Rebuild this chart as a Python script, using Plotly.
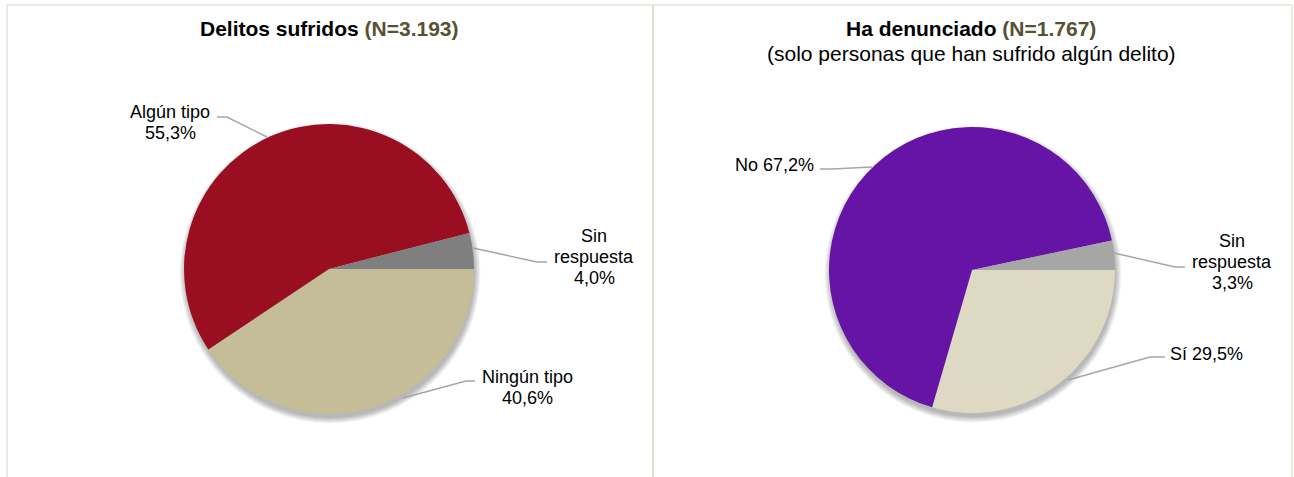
import plotly.graph_objects as go

W, H = 1294, 477

# ---- data ----
left_labels = ["Sin respuesta", "Algún tipo", "Ningún tipo"]
left_values = [4.0, 55.3, 40.6]
right_labels = ["Sin respuesta", "No", "Sí"]
right_values = [3.3, 67.2, 29.5]
left_title = "Delitos sufridos"
left_n = "(N=3.193)"
right_title = "Ha denunciado"
right_n = "(N=1.767)"
right_subtitle = "(solo personas que han sufrido algún delito)"

# ---- style ----
left_colors = ["#7F7F7F", "#9A0E22", "#C4BD97"]
right_colors = ["#A6A6A6", "#6614A6", "#DDD9C3"]
FONT = "Liberation Sans, Arial, sans-serif"
LEAD = "#A6A6A6"
BORDER = "#D8D4C2"


def px(x):
    return x / W


def py(y):
    return 1 - y / H


def pct(v):
    return f"{v:.1f}".replace(".", ",") + "%"


# pie geometry (pixels): center x, center y, radius
LP = (329, 269, 145)
RP = (972, 270, 143)


def dom(p):
    cx, cy, r = p
    return dict(x=[px(cx - r), px(cx + r)], y=[py(cy + r), py(cy - r)])


fig = go.Figure()
for vals, labs, cols, p in [(left_values, left_labels, left_colors, LP),
                            (right_values, right_labels, right_colors, RP)]:
    # drawn clockwise from 3 o'clock in reversed order -> first item sits just above 3 o'clock
    fig.add_trace(go.Pie(
        values=vals[::-1], labels=labs[::-1], sort=False, direction="clockwise",
        rotation=90, textinfo="none", hoverinfo="label+value",
        marker=dict(colors=cols[::-1], line=dict(width=0)),
        domain=dom(p), showlegend=False,
    ))

shapes = []
# panel borders
shapes.append(dict(type="rect", xref="paper", yref="paper", x0=px(7), x1=px(653),
                   y0=py(490), y1=py(5), line=dict(color=BORDER, width=1), layer="below"))
shapes.append(dict(type="rect", xref="paper", yref="paper", x0=px(653), x1=px(1292),
                   y0=py(490), y1=py(5), line=dict(color=BORDER, width=1), layer="below"))
# soft shadows
for (cx, cy, r) in (LP, RP):
    for k in range(7):
        rr = r + k * 0.9
        shapes.append(dict(type="circle", xref="paper", yref="paper",
                           x0=px(cx + 1 - rr), x1=px(cx + 1 + rr),
                           y0=py(cy + 4 + rr), y1=py(cy + 4 - rr),
                           fillcolor="rgba(0,0,0,0.045)", line=dict(width=0), layer="below"))

# leader lines (pixel paths)
leaders = [
    [(267, 137), (227, 117), (217, 117)],
    [(473, 248), (537, 262), (547, 262)],
    [(403, 398), (466, 381), (475, 381)],
    [(872, 167), (832, 169), (820, 169)],
    [(1114, 253), (1175, 267), (1185, 267)],
    [(1068, 380), (1150, 357), (1165, 357)],
]
for pts in leaders:
    path = "M " + " L ".join(f"{px(x)},{py(y)}" for x, y in pts)
    shapes.append(dict(type="path", xref="paper", yref="paper", path=path,
                       line=dict(color=LEAD, width=1.5)))

annotations = []


def text(x, y, s, size=18, color="#000000"):
    annotations.append(dict(x=px(x), y=py(y), xref="paper", yref="paper", text=s,
                            showarrow=False, xanchor="center", yanchor="middle",
                            font=dict(family=FONT, size=size, color=color)))


# slice labels
lab_l = dict(zip(left_labels, left_values))
lab_r = dict(zip(right_labels, right_values))
text(170, 112, "Algún tipo")
text(170, 133, pct(lab_l["Algún tipo"]))
text(594, 236, "Sin")
text(594, 257, "respuesta")
text(594, 278, pct(lab_l["Sin respuesta"]))
text(527, 377, "Ningún tipo")
text(527, 398, pct(lab_l["Ningún tipo"]))
text(774, 165, "No " + pct(lab_r["No"]))
text(1232, 241, "Sin")
text(1232, 262, "respuesta")
text(1232, 283, pct(lab_r["Sin respuesta"]))
text(1206, 354, "Sí " + pct(lab_r["Sí"]))

# titles
text(329, 28, f"<b>{left_title} <span style='color:#585133'>{left_n}</span></b>", size=21)
text(971, 28, f"<b>{right_title} <span style='color:#585133'>{right_n}</span></b>", size=21)
text(971, 53, right_subtitle, size=21)

fig.update_layout(
    width=W, height=H, autosize=False,
    margin=dict(l=0, r=0, t=0, b=0),
    paper_bgcolor="#FFFFFF", plot_bgcolor="#FFFFFF",
    shapes=shapes, annotations=annotations,
    font=dict(family=FONT),
)

fig.write_html("out.html", config={"displayModeBar": False},
               post_script="document.body.style.margin='0';")
